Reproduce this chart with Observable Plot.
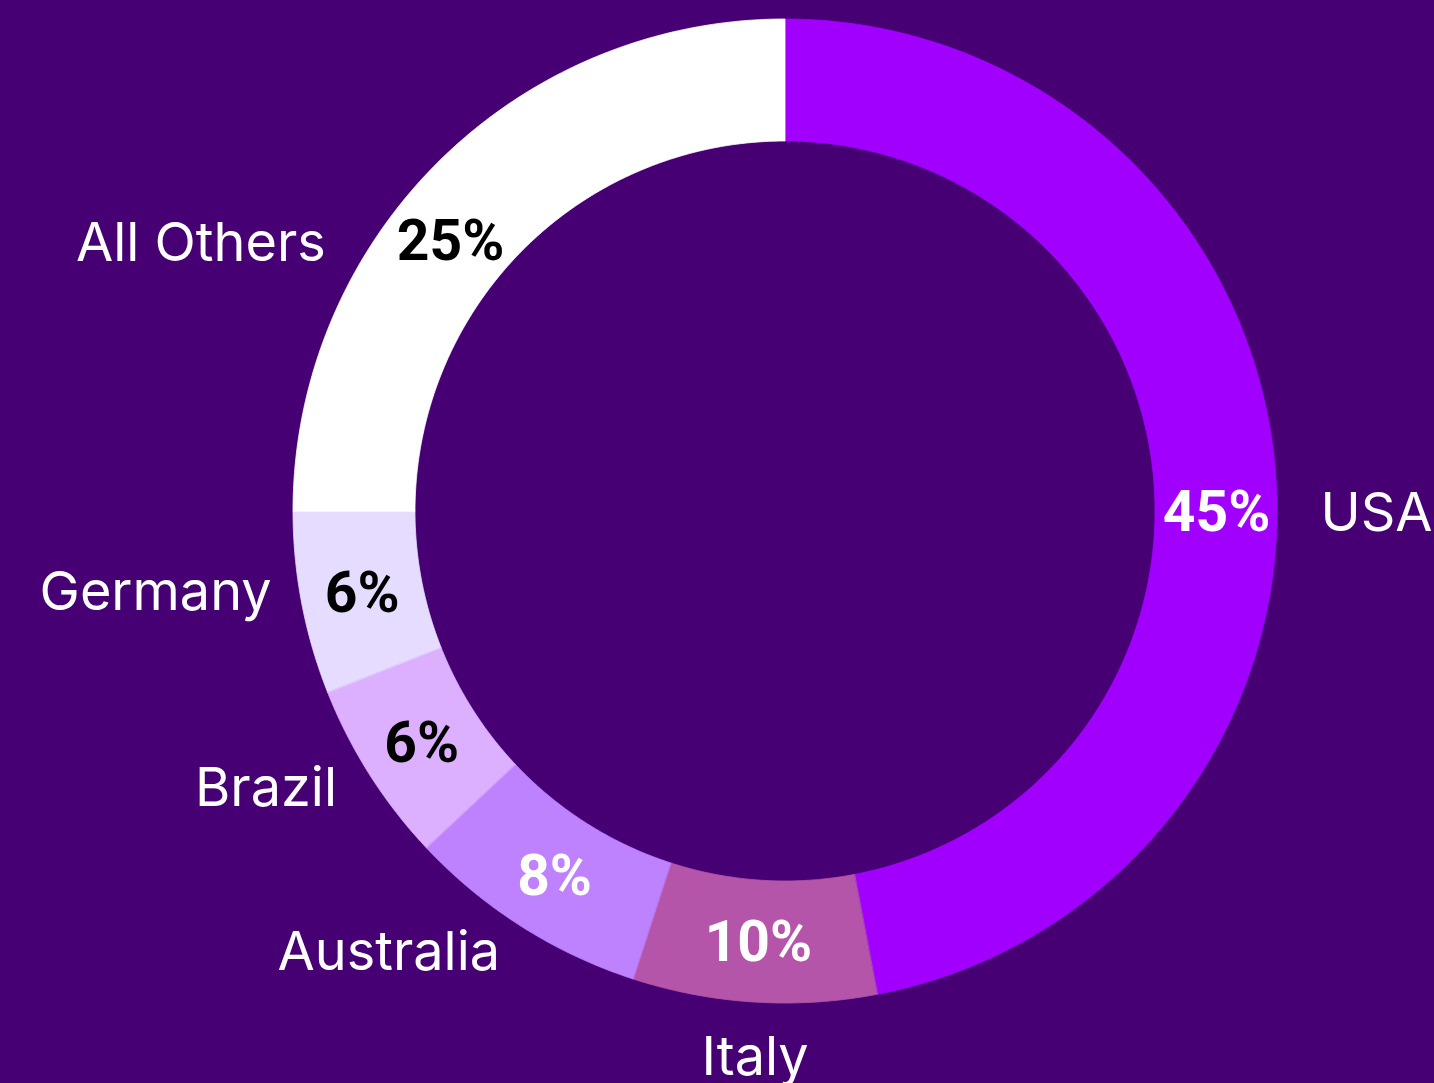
<!DOCTYPE html>
<html>
<head>
<meta charset="utf-8">
<script src="https://cdn.jsdelivr.net/npm/d3@7"></script>
<script src="https://cdn.jsdelivr.net/npm/@observablehq/plot@0.6"></script>
<style>
  html, body { margin: 0; padding: 0; background: #460073; overflow: hidden; }
  #chart svg { display: block; }
</style>
</head>
<body>
<div id="chart"></div>
<script>
// ---- data ----
const categories = ["USA", "Italy", "Australia", "Brazil", "Germany", "All Others"];
// ring segment sizes as drawn in the picture (percent of the ring)
const shares = [47, 8, 8, 6, 6, 25];
// percentage labels as printed on the picture
const percentLabels = ["45%", "10%", "8%", "6%", "6%", "25%"];

// ---- styles / layout ----
const colors = ["#a100ff", "#b455aa", "#be82ff", "#dcafff", "#e6dcff", "#ffffff"];
const bg = "#460073";
const W = 1434, H = 1083;
const cx = 785, cy = 511;        // pixel centre of the ring
const R = 492, r = 370;          // outer / inner radius (px)
const rText = (R + r) / 2;
// label placement (degrees clockwise from 12 o'clock, radius in px)
const innerAngleFix = {"USA": 90, "All Others": 309};
const outerPlace = {
  "USA": [90, 535], "Italy": [183.2, 545], "Australia": [213, 524],
  "Brazil": [238.5, 526], "Germany": [261.2, 520], "All Others": [300.4, 533]
};

const total = d3.sum(shares);
const rad = d => d * Math.PI / 180;
let acc = 0;
const slices = categories.map((c, i) => {
  const a0 = acc / total * 360;
  acc += shares[i];
  const a1 = acc / total * 360;
  return {cat: c, share: shares[i], label: percentLabels[i], a0, a1, mid: (a0 + a1) / 2, color: colors[i]};
});

// ring sample points (derived from shares)
const ring = [];
for (const s of slices) {
  const n = Math.max(2, Math.ceil((s.a1 - s.a0) * 2));
  for (let k = 0; k <= n; k++) {
    const a = rad(s.a0 + (s.a1 - s.a0) * k / n);
    ring.push({cat: s.cat, x1: R * Math.sin(a), y1: R * Math.cos(a), x2: r * Math.sin(a), y2: r * Math.cos(a)});
  }
}

const inner = slices.map(s => {
  const a = rad(innerAngleFix[s.cat] ?? s.mid);
  return {...s, x: rText * Math.sin(a), y: rText * Math.cos(a),
          ink: d3.lab(s.color).l > 70 ? "#000000" : "#ffffff"};
});

const outer = slices.map(s => {
  const [deg, rr] = outerPlace[s.cat] ?? [s.mid, 525];
  const a = rad(deg);
  const anchor = (deg > 15 && deg < 165) ? "start" : (deg > 195 && deg < 345) ? "end" : "middle";
  return {...s, anchor, x: rr * Math.sin(a), y: rr * Math.cos(a)};
});

const labelFont = "Inter, 'Noto Sans', sans-serif";
const pctFont = "Roboto, Inter, sans-serif";
const outerMark = anchor => Plot.text(outer.filter(d => d.anchor === anchor), {
  x: "x", y: "y", text: "cat", textAnchor: anchor, lineAnchor: "middle",
  fill: "#ffffff", fontSize: 54, fontWeight: 400, fontFamily: labelFont, dy: 2
});

const chart = Plot.plot({
  width: W, height: H,
  margin: 0,
  style: {background: bg, overflow: "visible"},
  x: {domain: [-cx, W - cx], range: [0, W], axis: null},
  y: {domain: [-(H - cy), cy], range: [H, 0], axis: null},
  color: {domain: categories, range: colors},
  marks: [
    Plot.area(ring, {x1: "x1", y1: "y1", x2: "x2", y2: "y2", z: "cat", fill: "cat", stroke: "cat", strokeWidth: 0.8, curve: "linear"}),
    Plot.text(inner, {x: "x", y: "y", text: "label", fill: "ink", fontSize: 57, fontWeight: 700, fontFamily: pctFont, lineAnchor: "middle", dy: 1}),
    outerMark("start"),
    outerMark("end"),
    outerMark("middle")
  ]
});
document.getElementById("chart").appendChild(chart);
</script>
</body>
</html>
